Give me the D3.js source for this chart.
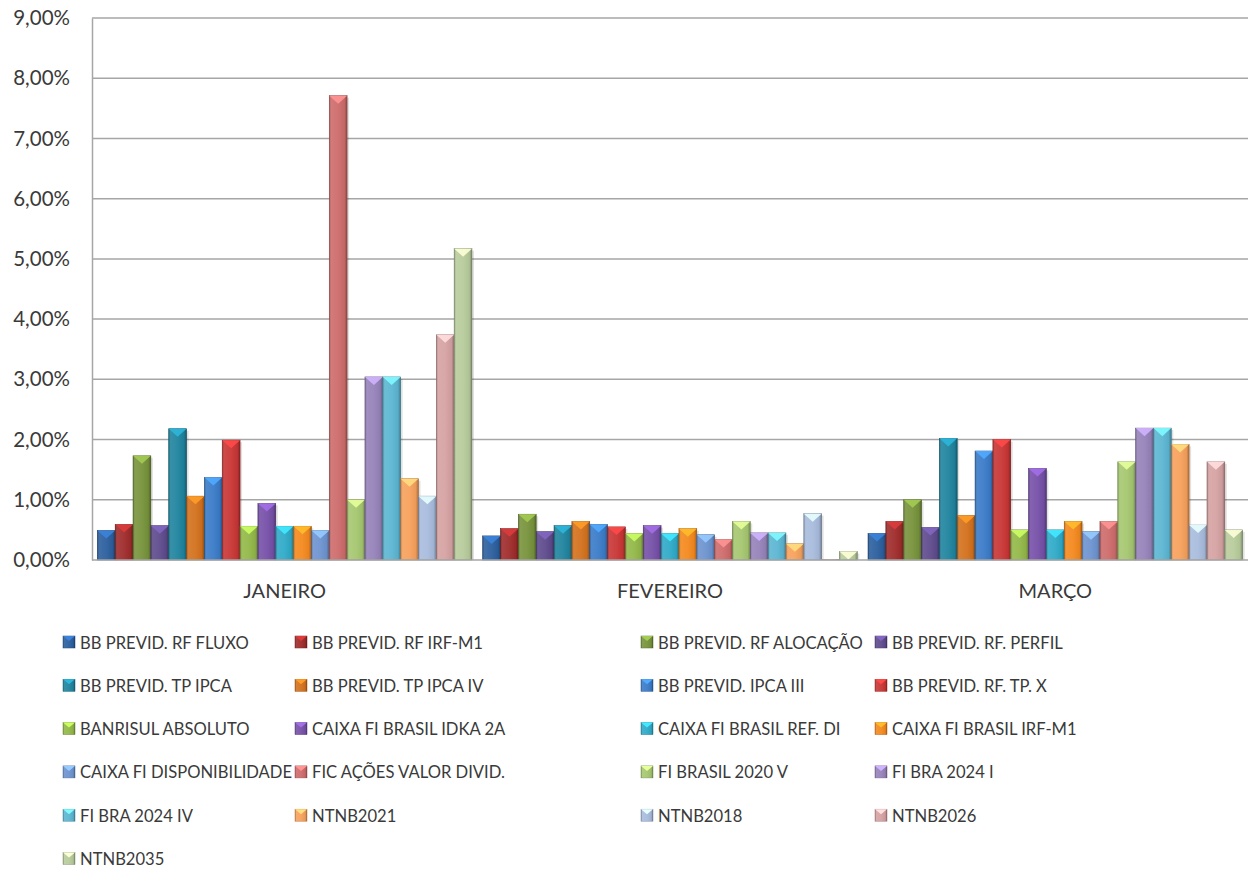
<!DOCTYPE html>
<html>
<head>
<meta charset="utf-8">
<script src="https://cdn.jsdelivr.net/npm/d3@7"></script>
<style>
  body { margin: 0; background: #fff; }
  text { font-family: Lato, "Open Sans", sans-serif; fill: #3a3a3a; }
</style>
</head>
<body>
<script>
// months (categories)
var months = ["JANEIRO", "FEVEREIRO", "MARÇO"];

// fund names (series)
var funds = [
  "BB PREVID. RF FLUXO", "BB PREVID. RF IRF-M1", "BB PREVID. RF ALOCAÇÃO", "BB PREVID. RF. PERFIL",
  "BB PREVID. TP IPCA", "BB PREVID. TP IPCA IV", "BB PREVID. IPCA III", "BB PREVID. RF. TP. X",
  "BANRISUL ABSOLUTO", "CAIXA FI BRASIL IDKA 2A", "CAIXA FI BRASIL REF. DI", "CAIXA FI BRASIL IRF-M1",
  "CAIXA FI DISPONIBILIDADE", "FIC AÇÕES VALOR DIVID.", "FI BRASIL 2020 V", "FI BRA 2024 I",
  "FI BRA 2024 IV", "NTNB2021", "NTNB2018", "NTNB2026",
  "NTNB2035"
];

// returns in %, one array per month, in fund order
var janeiro   = [0.49, 0.59, 1.73, 0.57, 2.18, 1.06, 1.37, 1.99, 0.56, 0.94, 0.56, 0.56, 0.49, 7.71, 1.00, 3.04, 3.04, 1.35, 1.06, 3.74, 5.17];
var fevereiro = [0.40, 0.52, 0.76, 0.47, 0.57, 0.64, 0.59, 0.55, 0.44, 0.57, 0.44, 0.52, 0.42, 0.34, 0.64, 0.45, 0.45, 0.27, 0.77, 0.01, 0.14];
var marco     = [0.44, 0.64, 1.00, 0.54, 2.02, 0.74, 1.81, 2.00, 0.50, 1.52, 0.50, 0.64, 0.47, 0.64, 1.63, 2.19, 2.19, 1.92, 0.58, 1.63, 0.50];

var yTicks = [0, 1, 2, 3, 4, 5, 6, 7, 8, 9];

var colors = [
  "#2b5f9e", "#9f2b2b", "#77933c", "#5e4a8c", "#1f849e", "#d3711c", "#3a7bc8",
  "#c93535", "#93b848", "#7650a8", "#2faac8", "#f4891e", "#6d93cf", "#ce6b6b",
  "#a6c770", "#9682b9", "#5cb6d2", "#f7a15c", "#a8bcdd", "#d6a2a2", "#b8cc9c"
];

var monthValues = [janeiro, fevereiro, marco];

var W = 1256, H = 870;
var margin = {left: 92, right: 8, top: 18, bottom: 310};

var svg = d3.select("body")
  .append("svg")
  .attr("width", W)
  .attr("height", H);

var defs = svg.append("defs");

// horizontal shading for the bevel look
var shade = defs.append("linearGradient").attr("id", "shade").attr("x1", 0).attr("x2", 1).attr("y1", 0).attr("y2", 0);
shade.append("stop").attr("offset", "0").attr("stop-color", "#000").attr("stop-opacity", 0.28);
shade.append("stop").attr("offset", "0.12").attr("stop-color", "#fff").attr("stop-opacity", 0.10);
shade.append("stop").attr("offset", "0.5").attr("stop-color", "#fff").attr("stop-opacity", 0.05);
shade.append("stop").attr("offset", "0.85").attr("stop-color", "#000").attr("stop-opacity", 0.05);
shade.append("stop").attr("offset", "1").attr("stop-color", "#000").attr("stop-opacity", 0.32);

var x0 = d3.scaleBand()
  .domain(months)
  .range([margin.left, W - margin.right])
  .paddingInner(0)
  .paddingOuter(0);

var x1 = d3.scaleBand()
  .domain(d3.range(funds.length))
  .range([0, x0.bandwidth()])
  .paddingInner(0)
  .paddingOuter(0.3);

var y = d3.scaleLinear()
  .domain([0, 9])
  .range([560, margin.top]);

// gridlines
svg.append("g")
  .selectAll("line")
  .data(yTicks.slice(1))
  .enter().append("line")
  .attr("x1", margin.left)
  .attr("x2", W - margin.right)
  .attr("y1", function(d) { return y(d); })
  .attr("y2", function(d) { return y(d); })
  .style("stroke", "#a6a6a6")
  .style("stroke-width", 1.5);

// y axis
var yAxis = d3.axisLeft(y)
  .tickValues(yTicks)
  .tickSize(0)
  .tickPadding(22)
  .tickFormat(function(d) { return d.toFixed(2).replace(".", ",") + "%"; });

var gy = svg.append("g")
  .attr("transform", "translate(" + margin.left + ",0)")
  .call(yAxis);
gy.select(".domain").style("stroke", "#a6a6a6").style("stroke-width", 1.5);
gy.selectAll("text").style("font-size", "20.5px").style("fill", "#3a3a3a").style("font-family", "Lato, sans-serif");

// bars
months.forEach(function(m, mi) {
  var g = svg.append("g").attr("transform", "translate(" + x0(m) + ",0)");
  var vals = monthValues[mi];
  var bw = x1.bandwidth();

  var bar = g.selectAll(".bar")
    .data(vals)
    .enter().append("g")
    .attr("class", "bar");

  // soft shadow
  bar.append("rect")
    .attr("x", function(d, i) { return x1(i) + 2; })
    .attr("y", function(d) { return y(d) + 2; })
    .attr("width", bw)
    .attr("height", function(d) { return y(0) - y(d) - 2; })
    .style("fill", "#000")
    .style("opacity", 0.12);

  bar.append("rect")
    .attr("x", function(d, i) { return x1(i); })
    .attr("y", function(d) { return y(d); })
    .attr("width", bw)
    .attr("height", function(d) { return y(0) - y(d); })
    .style("fill", function(d, i) { return colors[i]; })
    .style("stroke", function(d, i) { return d3.color(colors[i]).darker(0.8); })
    .style("stroke-width", 0.6);

  bar.append("rect")
    .attr("x", function(d, i) { return x1(i); })
    .attr("y", function(d) { return y(d); })
    .attr("width", bw)
    .attr("height", function(d) { return y(0) - y(d); })
    .style("fill", "url(#shade)");

  // top bevel triangle
  bar.append("path")
    .attr("d", function(d, i) {
      var xl = x1(i), yt = y(d);
      var h = Math.min(bw * 0.45, y(0) - yt);
      return "M" + xl + "," + yt + "L" + (xl + bw) + "," + yt + "L" + (xl + bw / 2) + "," + (yt + h) + "Z";
    })
    .style("fill", function(d, i) { return d3.color(colors[i]).brighter(0.9); })
    .style("opacity", 0.9);
});

// x axis line
svg.append("line")
  .attr("x1", margin.left)
  .attr("x2", W - margin.right)
  .attr("y1", y(0))
  .attr("y2", y(0))
  .style("stroke", "#a6a6a6")
  .style("stroke-width", 1.5);

// category labels
svg.append("g")
  .selectAll("text")
  .data(months)
  .enter().append("text")
  .attr("x", function(d) { return x0(d) + x0.bandwidth() / 2; })
  .attr("y", 598)
  .attr("text-anchor", "middle")
  .style("font-size", "20px")
  .text(function(d) { return d; });

// legend
var legendCols = [63, 295, 641, 875];
var legend = svg.append("g");
var item = legend.selectAll(".item")
  .data(funds)
  .enter().append("g")
  .attr("class", "item")
  .attr("transform", function(d, i) {
    return "translate(" + legendCols[i % 4] + "," + (642 + Math.floor(i / 4) * 43.3) + ")";
  });

item.append("rect")
  .attr("x", 0).attr("y", -6)
  .attr("width", 12).attr("height", 12)
  .style("fill", function(d, i) { return colors[i]; })
  .style("stroke", function(d, i) { return d3.color(colors[i]).darker(0.8); })
  .style("stroke-width", 0.5);
item.append("rect")
  .attr("x", 0).attr("y", -6)
  .attr("width", 12).attr("height", 12)
  .style("fill", "url(#shade)");
item.append("path")
  .attr("d", "M0,-6L12,-6L6,-1Z")
  .style("fill", function(d, i) { return d3.color(colors[i]).brighter(0.9); });

item.append("text")
  .attr("x", 17)
  .attr("y", 6.5)
  .style("font-size", "16.6px")
  .text(function(d) { return d; });
</script>
</body>
</html>
